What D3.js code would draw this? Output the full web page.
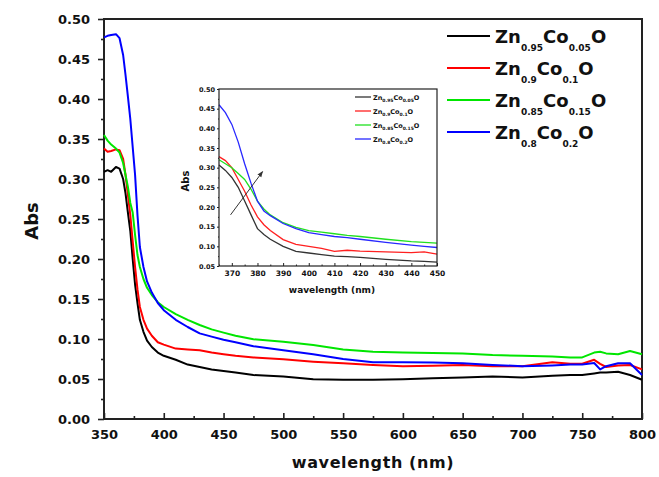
<!DOCTYPE html>
<html>
<head>
<meta charset="utf-8">
<title>Zn1-xCoxO absorbance</title>
<style>
  body { margin: 0; background: #fff; }
  svg text { font-family: "DejaVu Sans", sans-serif; font-weight: bold; fill: #111; }
</style>
</head>
<body>
<svg width="659" height="477"></svg>
<script src="https://d3js.org/d3.v7.min.js"></script>
<script>
// main spectrum, wavelength grid (nm)
const wavelength = [350, 353, 356, 360, 363, 366, 368, 370, 372, 374, 376, 378, 380, 383, 386, 390, 395, 400,
  410, 420, 430, 440, 450, 460, 475, 500, 525, 550, 575, 600, 625, 650, 675, 700, 725, 740, 750, 760, 765, 770, 780, 790, 800]
const absCo005 = [0.309, 0.311, 0.309, 0.315, 0.313, 0.300, 0.282, 0.258, 0.235, 0.200, 0.168, 0.145, 0.124, 0.109, 0.098, 0.090, 0.083, 0.079,
  0.074, 0.068, 0.065, 0.062, 0.060, 0.058, 0.055, 0.053, 0.0496, 0.049, 0.049, 0.0496, 0.051, 0.052, 0.053, 0.052, 0.054, 0.055, 0.055, 0.057, 0.058, 0.058, 0.059, 0.055, 0.049]
const absCo01 = [0.338, 0.334, 0.335, 0.337, 0.336, 0.325, 0.305, 0.280, 0.255, 0.222, 0.190, 0.162, 0.140, 0.124, 0.113, 0.104, 0.096, 0.093,
  0.088, 0.087, 0.086, 0.083, 0.081, 0.079, 0.077, 0.0746, 0.0717, 0.0696, 0.0675, 0.066, 0.0665, 0.0675, 0.066, 0.066, 0.071, 0.069, 0.069, 0.074, 0.069, 0.065, 0.067, 0.0675, 0.062]
const absCo015 = [0.355, 0.348, 0.343, 0.338, 0.333, 0.320, 0.305, 0.290, 0.270, 0.258, 0.230, 0.205, 0.190, 0.175, 0.164, 0.155, 0.146, 0.140,
  0.131, 0.124, 0.1175, 0.112, 0.108, 0.104, 0.0996, 0.0967, 0.0925, 0.087, 0.084, 0.083, 0.0825, 0.082, 0.080, 0.079, 0.078, 0.077, 0.077, 0.083, 0.084, 0.082, 0.081, 0.085, 0.081]
const absCo02 = [0.477, 0.479, 0.480, 0.481, 0.476, 0.455, 0.430, 0.403, 0.375, 0.340, 0.305, 0.255, 0.215, 0.190, 0.172, 0.158, 0.145, 0.136,
  0.124, 0.115, 0.107, 0.103, 0.099, 0.096, 0.091, 0.086, 0.081, 0.075, 0.071, 0.071, 0.0705, 0.0696, 0.0675, 0.066, 0.067, 0.068, 0.068, 0.070, 0.062, 0.066, 0.0696, 0.0696, 0.055]

// inset, zoomed band edge
const insetWavelength = [365, 367.5, 370, 372.5, 375, 377.5, 380, 382.5, 385, 390, 395, 400, 405, 410, 415, 420, 430, 440, 445, 450]
const insetCo005 = [0.307, 0.293, 0.275, 0.250, 0.215, 0.180, 0.145, 0.130, 0.118, 0.100, 0.087, 0.083, 0.079, 0.075, 0.074, 0.072, 0.067, 0.063, 0.062, 0.060]
const insetCo01 = [0.328, 0.318, 0.300, 0.270, 0.240, 0.205, 0.175, 0.155, 0.140, 0.117, 0.105, 0.100, 0.095, 0.087, 0.090, 0.088, 0.086, 0.084, 0.086, 0.080]
const insetCo015 = [0.320, 0.310, 0.300, 0.285, 0.270, 0.245, 0.215, 0.195, 0.180, 0.160, 0.148, 0.140, 0.136, 0.132, 0.128, 0.125, 0.118, 0.112, 0.110, 0.108]
const insetCo02 = [0.460, 0.440, 0.410, 0.365, 0.310, 0.260, 0.215, 0.190, 0.178, 0.158, 0.145, 0.135, 0.130, 0.125, 0.122, 0.118, 0.110, 0.103, 0.100, 0.097]

// legend labels: [Zn, x(Zn), Co, x(Co), O]
const labels = [
  ["Zn", "0.95", "Co", "0.05", "O"],
  ["Zn", "0.9", "Co", "0.1", "O"],
  ["Zn", "0.85", "Co", "0.15", "O"],
  ["Zn", "0.8", "Co", "0.2", "O"]
]
const colors = ["#000000", "#ff0000", "#00e600", "#0000ff"]
const insetColors = ["#333333", "#ff2020", "#20e020", "#2828ff"]

const xTicks = d3.range(350, 801, 50)
const xMinor = d3.range(375, 800, 50)
const yTicks = d3.range(0, 0.501, 0.05)
const yMinor = d3.range(0.025, 0.5, 0.05)
const ixTicks = d3.range(370, 451, 10)
const ixMinor = d3.range(365, 450, 10)
const iyTicks = d3.range(0.05, 0.501, 0.05)
const iyMinor = d3.range(0.075, 0.5, 0.05)

const svg = d3.select("svg")
const m = {left: 104, right: 642, top: 19, bottom: 419}

const x = d3.scaleLinear().domain([350, 800]).range([m.left, m.right])
const y = d3.scaleLinear().domain([0, 0.5]).range([m.bottom, m.top])

const styleAxis = g => {
  g.select(".domain").remove()
  g.selectAll("line").attr("stroke", "#222").attr("stroke-width", 1.6)
}

// main axes
svg.append("g").attr("transform", `translate(0,${m.bottom})`)
  .call(d3.axisBottom(x).tickValues(xTicks).tickFormat(d3.format("d")).tickSizeInner(-6).tickSizeOuter(0).tickPadding(11))
  .call(styleAxis)
  .selectAll("text").attr("font-size", 13)
svg.append("g").attr("transform", `translate(0,${m.bottom})`)
  .call(d3.axisBottom(x).tickValues(xMinor).tickFormat("").tickSizeInner(-3).tickSizeOuter(0))
  .call(styleAxis)
svg.append("g").attr("transform", `translate(${m.left},0)`)
  .call(d3.axisLeft(y).tickValues(yTicks).tickFormat(d3.format(".2f")).tickSizeInner(6).tickSizeOuter(0).tickPadding(8))
  .call(styleAxis)
  .selectAll("text").attr("font-size", 13)
svg.append("g").attr("transform", `translate(${m.left},0)`)
  .call(d3.axisLeft(y).tickValues(yMinor).tickFormat("").tickSizeInner(3).tickSizeOuter(0))
  .call(styleAxis)

svg.append("rect")
  .attr("x", m.left).attr("y", m.top)
  .attr("width", m.right - m.left).attr("height", m.bottom - m.top)
  .attr("fill", "none").attr("stroke", "#222").attr("stroke-width", 2)

svg.append("text").attr("x", 373).attr("y", 468).attr("text-anchor", "middle")
  .attr("font-size", 16).attr("letter-spacing", 0.6).text("wavelength (nm)")
svg.append("text").attr("transform", "translate(38,221) rotate(-90)").attr("text-anchor", "middle")
  .attr("font-size", 18).text("Abs")

// main curves
const mainSeries = [absCo005, absCo01, absCo015, absCo02]
const line = d3.line().x(d => x(d[0])).y(d => y(d[1]))
svg.append("g").attr("fill", "none").attr("stroke-width", 2).attr("stroke-linejoin", "round")
  .selectAll("path").data(mainSeries).join("path")
  .attr("stroke", (d, i) => colors[i])
  .attr("d", d => line(wavelength.map((w, j) => [w, d[j]])))

// main legend
const drawLabel = (g, parts, size, subSize, subShift) => {
  const t = g.append("text").attr("font-size", size)
  parts.forEach((p, k) => {
    const sub = k % 2 === 1
    t.append("tspan")
      .attr("font-size", sub ? subSize : size)
      .attr("dy", sub ? subShift : (k === 0 ? 0 : -subShift))
      .text(p)
  })
  return t
}
labels.forEach((parts, i) => {
  const ly = 36 + 32 * i
  const g = svg.append("g")
  g.append("line").attr("x1", 447).attr("x2", 490).attr("y1", ly).attr("y2", ly)
    .attr("stroke", colors[i]).attr("stroke-width", 2)
  drawLabel(g, parts, 18, 9, 8).attr("x", 495).attr("y", ly + 7)
})

// inset
const im = {left: 219, right: 437, top: 89, bottom: 266}
const ix = d3.scaleLinear().domain([365, 450]).range([im.left, im.right])
const iy = d3.scaleLinear().domain([0.05, 0.5]).range([im.bottom, im.top])

svg.append("rect").attr("x", im.left).attr("y", im.top)
  .attr("width", im.right - im.left).attr("height", im.bottom - im.top)
  .attr("fill", "#fff")

const insetSeries = [insetCo005, insetCo01, insetCo015, insetCo02]
const iline = d3.line().x(d => ix(d[0])).y(d => iy(d[1]))
svg.append("g").attr("fill", "none").attr("stroke-width", 1.3)
  .selectAll("path").data(insetSeries).join("path")
  .attr("stroke", (d, i) => insetColors[i])
  .attr("d", d => iline(insetWavelength.map((w, j) => [w, d[j]])))

const thinAxis = g => {
  g.select(".domain").remove()
  g.selectAll("line").attr("stroke", "#222").attr("stroke-width", 1)
}
svg.append("g").attr("transform", `translate(0,${im.bottom})`)
  .call(d3.axisBottom(ix).tickValues(ixTicks).tickFormat(d3.format("d")).tickSizeInner(-3).tickSizeOuter(0).tickPadding(5))
  .call(thinAxis)
  .selectAll("text").attr("font-size", 7.5)
svg.append("g").attr("transform", `translate(0,${im.bottom})`)
  .call(d3.axisBottom(ix).tickValues(ixMinor).tickFormat("").tickSizeInner(-1.5).tickSizeOuter(0))
  .call(thinAxis)
svg.append("g").attr("transform", `translate(${im.left},0)`)
  .call(d3.axisLeft(iy).tickValues(iyTicks).tickFormat(d3.format(".2f")).tickSizeInner(2).tickSizeOuter(0).tickPadding(2))
  .call(thinAxis)
  .selectAll("text").attr("font-size", 6.5)
svg.append("g").attr("transform", `translate(${im.left},0)`)
  .call(d3.axisLeft(iy).tickValues(iyMinor).tickFormat("").tickSizeInner(1).tickSizeOuter(0))
  .call(thinAxis)

svg.append("rect").attr("x", im.left).attr("y", im.top)
  .attr("width", im.right - im.left).attr("height", im.bottom - im.top)
  .attr("fill", "none").attr("stroke", "#222").attr("stroke-width", 1.2)

svg.append("text").attr("x", 332).attr("y", 293).attr("text-anchor", "middle")
  .attr("font-size", 9).text("wavelength (nm)")
svg.append("text").attr("transform", "translate(189,181) rotate(-90)").attr("text-anchor", "middle")
  .attr("font-size", 10).text("Abs")

// inset legend
labels.forEach((parts, i) => {
  const ly = 97 + 14 * i
  const g = svg.append("g")
  g.append("line").attr("x1", 355).attr("x2", 371).attr("y1", ly).attr("y2", ly)
    .attr("stroke", insetColors[i]).attr("stroke-width", 1.3)
  drawLabel(g, parts, 6.5, 4.5, 2).attr("x", 373).attr("y", ly + 2.5)
})

// trend arrow
svg.append("defs").append("marker").attr("id", "head")
  .attr("viewBox", "0 0 10 10").attr("refX", 9).attr("refY", 5)
  .attr("markerWidth", 6).attr("markerHeight", 6).attr("orient", "auto")
  .append("path").attr("d", "M0,1 L10,5 L0,9 Z").attr("fill", "#333")
svg.append("line")
  .attr("x1", ix(369.5)).attr("y1", iy(0.18))
  .attr("x2", ix(382)).attr("y2", iy(0.29))
  .attr("stroke", "#333").attr("stroke-width", 1).attr("marker-end", "url(#head)")
</script>
</body>
</html>
